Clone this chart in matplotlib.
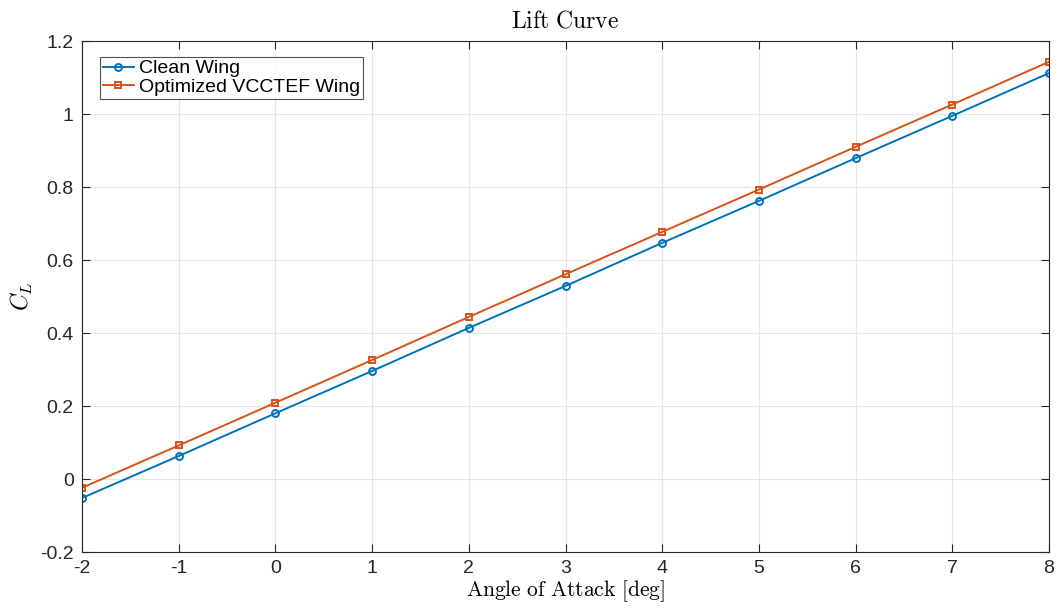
import matplotlib.pyplot as plt

# angle of attack sweep and lift coefficients
alpha = [-2, -1, 0, 1, 2, 3, 4, 5, 6, 7, 8]
CL_clean = [-0.052, 0.063, 0.180, 0.296, 0.414, 0.529, 0.647, 0.762, 0.879, 0.995, 1.112]
CL_vcctef = [-0.024, 0.092, 0.209, 0.326, 0.444, 0.561, 0.677, 0.793, 0.910, 1.026, 1.143]

plt.rcParams['font.family'] = ['Liberation Sans', 'DejaVu Sans']
plt.rcParams['mathtext.fontset'] = 'cm'

fig = plt.figure(figsize=(10.61, 6.13), dpi=100)
ax = fig.add_axes([0.0773, 0.0995, 0.9114, 0.8336])

ax.plot(alpha, CL_clean, color='#0072BD', marker='o', markersize=5, markerfacecolor='none',
        markeredgewidth=1.4, linewidth=1.4, label='Clean Wing')
ax.plot(alpha, CL_vcctef, color='#D95319', marker='s', markersize=4.6, markerfacecolor='none',
        markeredgewidth=1.4, linewidth=1.4, label='Optimized VCCTEF Wing')

ax.set_xlim(-2, 8)
ax.set_ylim(-0.2, 1.2)
ax.set_xticks(alpha)
ax.set_yticks([-0.2, 0, 0.2, 0.4, 0.6, 0.8, 1, 1.2])
ax.set_yticklabels(['-0.2', '0', '0.2', '0.4', '0.6', '0.8', '1', '1.2'])
ax.set_xticklabels([str(a) for a in alpha])

ax.grid(True, color='#e6e6e6', linewidth=0.8)
ax.set_axisbelow(True)
for s in ax.spines.values():
    s.set_color('#262626')
    s.set_linewidth(0.8)
ax.tick_params(direction='in', length=6, width=0.8, top=True, right=True,
               labelsize=14, colors='#262626', pad=6)

ax.set_title(r'$\mathrm{Lift\ Curve}$', fontsize=17, pad=10)
ax.set_xlabel(r'$\mathrm{Angle\ of\ Attack\ [deg]}$', fontsize=15.5, labelpad=1)
ax.set_ylabel(r'$C_L$', fontsize=17, labelpad=4)

leg = ax.legend(loc='upper left', bbox_to_anchor=(0.0186, 0.969), fontsize=14, frameon=True,
                fancybox=False, edgecolor='#262626', handlelength=1.6, handletextpad=0.25,
                borderpad=0.15, labelspacing=0.05, borderaxespad=0)
leg.get_frame().set_linewidth(0.8)

plt.savefig('out.png', dpi=100)
